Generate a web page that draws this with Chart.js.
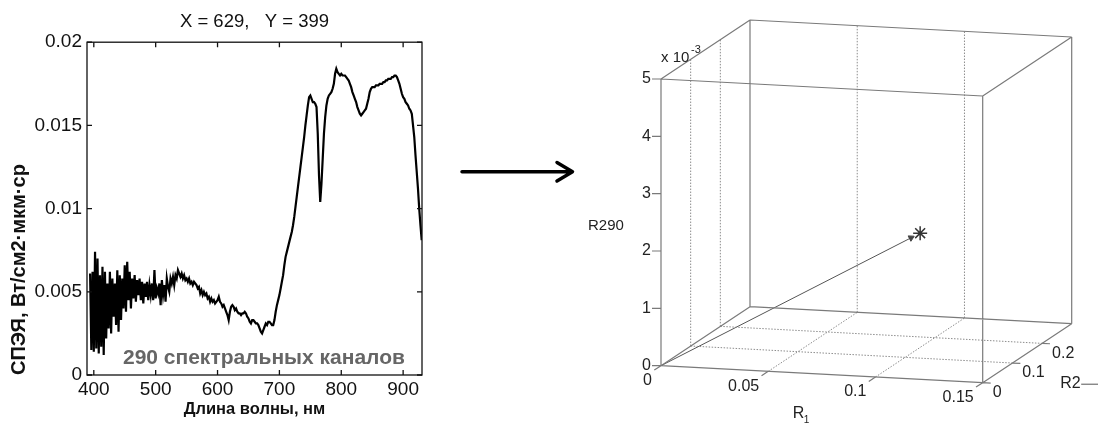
<!DOCTYPE html>
<html>
<head>
<meta charset="utf-8">
<script src="https://cdn.jsdelivr.net/npm/chart.js@4/dist/chart.umd.min.js"></script>
<style>
body { margin: 0; background: #fff; }
#wrap { position: relative; width: 1098px; height: 423px; }
canvas { position: absolute; top: 0; }
</style>
</head>
<body>
<div id="wrap">
<canvas id="spectrum" width="440" height="423" style="left:0"></canvas>
<canvas id="cube" width="658" height="423" style="left:440px"></canvas>
</div>
<script>
var font = "'Liberation Sans', Arial, sans-serif"

// left panel: spectrum of one pixel
var wavelength = [
  394, 396, 398, 400, 402, 404, 406, 408, 410, 412,
  414, 416, 418, 420, 422, 424, 426, 428, 430, 432,
  434, 436, 438, 440, 442, 444, 446, 448, 450, 452,
  454, 456, 458, 460, 462, 464, 466, 468, 470, 472,
  474, 476, 478, 480, 482, 484, 486, 488, 490, 492,
  494, 496, 498, 500, 502, 504, 506, 508, 510, 512,
  514, 516, 518, 520, 522, 524, 526, 528, 530, 532,
  534, 536, 538, 540, 542, 544, 546, 548, 550, 552,
  554, 556, 558, 560, 562, 564, 566, 568, 570, 572,
  574, 576, 578, 580, 582, 584, 586, 588, 590, 592,
  594, 596, 598, 600, 602, 604, 606, 608, 610, 612,
  614, 616, 618, 620, 622, 624, 626, 628, 630, 632,
  634, 636, 638, 640, 642, 644, 646, 648, 650, 652,
  654, 656, 658, 660, 662, 664, 666, 668, 670, 672,
  674, 676, 678, 680, 682, 684, 686, 688, 690, 692,
  694, 696, 698, 700, 702, 704, 706, 708, 710, 712,
  714, 716, 718, 720, 722, 724, 726, 728, 730, 732,
  734, 736, 738, 740, 742, 744, 746, 748, 750, 752,
  754, 756, 758, 760, 762, 764, 766, 768, 770, 772,
  774, 776, 778, 780, 782, 784, 786, 788, 790, 792,
  794, 796, 798, 800, 802, 804, 806, 808, 810, 812,
  814, 816, 818, 820, 822, 824, 826, 828, 830, 832,
  834, 836, 838, 840, 842, 844, 846, 848, 850, 852,
  854, 856, 858, 860, 862, 864, 866, 868, 870, 872,
  874, 876, 878, 880, 882, 884, 886, 888, 890, 892,
  894, 896, 898, 900, 902, 904, 906, 908, 910, 912,
  914, 916, 918, 920, 922, 924, 926, 928, 930
]
var radiance = [
  0.0061, 0.0015, 0.0062, 0.0014, 0.0074, 0.0016, 0.0070, 0.0013, 0.0060, 0.0017,
  0.0065, 0.0012, 0.0062, 0.0022, 0.0055, 0.0028, 0.0062, 0.0025, 0.0058, 0.0035,
  0.0055, 0.0030, 0.0063, 0.0026, 0.0060, 0.0033, 0.0058, 0.0040, 0.0066, 0.0038,
  0.0068, 0.0045, 0.0062, 0.0040, 0.0058, 0.0046, 0.0060, 0.0044, 0.0057, 0.0048,
  0.0058, 0.0045, 0.0056, 0.0043, 0.0055, 0.0047, 0.0056, 0.0045, 0.0054, 0.0048,
  0.0055, 0.0045, 0.0063, 0.0046, 0.0052, 0.0049, 0.0055, 0.0042, 0.0057, 0.0048,
  0.0054, 0.0044, 0.0058, 0.0053, 0.0050, 0.0058, 0.0055, 0.0059, 0.0054, 0.0060,
  0.0058, 0.0063, 0.0061, 0.0059, 0.0061, 0.0058, 0.0060, 0.0057, 0.0058, 0.0056,
  0.0058, 0.0055, 0.0056, 0.0054, 0.0056, 0.0055, 0.0054, 0.0052, 0.0053, 0.0049,
  0.0051, 0.0048, 0.0050, 0.0048, 0.0049, 0.0046, 0.0047, 0.0044, 0.0046, 0.0044,
  0.0045, 0.0043, 0.0044, 0.0045, 0.0047, 0.0044, 0.0043, 0.0041, 0.0042, 0.0040,
  0.0038, 0.0036, 0.0033, 0.0038, 0.0041, 0.0042, 0.0041, 0.0039, 0.0040, 0.0038,
  0.0037, 0.0037, 0.0036, 0.0037, 0.0037, 0.0038, 0.0037, 0.0035, 0.0034, 0.0032,
  0.0031, 0.0033, 0.0033, 0.0032, 0.0031, 0.0031, 0.0030, 0.0028, 0.0026, 0.0025,
  0.0027, 0.0029, 0.0031, 0.0030, 0.0032, 0.0032, 0.0031, 0.0030, 0.0030, 0.0033,
  0.0038, 0.0042, 0.0045, 0.0048, 0.0052, 0.0056, 0.0060, 0.0066, 0.0071, 0.0074,
  0.0077, 0.0080, 0.0083, 0.0086, 0.0090, 0.0095, 0.0101, 0.0107, 0.0113, 0.0119,
  0.0125, 0.0131, 0.0137, 0.0143, 0.0150, 0.0156, 0.0162, 0.0167, 0.0168, 0.0166,
  0.0164, 0.0164, 0.0163, 0.0161, 0.0145, 0.0120, 0.0104, 0.0115, 0.0130, 0.0145,
  0.0155, 0.0162, 0.0166, 0.0168, 0.0169, 0.0170, 0.0172, 0.0175, 0.0181, 0.0184,
  0.0182, 0.0181, 0.0180, 0.0181, 0.0180, 0.0180, 0.0180, 0.0179, 0.0178, 0.0177,
  0.0175, 0.0173, 0.0170, 0.0168, 0.0166, 0.0164, 0.0161, 0.0159, 0.0157, 0.0156,
  0.0157, 0.0158, 0.0159, 0.0160, 0.0163, 0.0166, 0.0170, 0.0172, 0.0173, 0.0173,
  0.0173, 0.0174, 0.0174, 0.0174, 0.0175, 0.0175, 0.0175, 0.0176, 0.0176, 0.0177,
  0.0177, 0.0178, 0.0178, 0.0178, 0.0179, 0.0179, 0.0180, 0.0180, 0.0179, 0.0177,
  0.0175, 0.0172, 0.0169, 0.0167, 0.0166, 0.0164, 0.0163, 0.0162, 0.0160, 0.0159,
  0.0157, 0.0150, 0.0143, 0.0132, 0.0122, 0.0112, 0.0100, 0.0090, 0.0081
]
var xTicks = [400, 500, 600, 700, 800, 900]
var yTicks = [0, 0.005, 0.01, 0.015, 0.02]
var noteText = '290 спектральных каналов'

// right panel: the same pixel as a point in feature space
var r1Lim = [0, 0.15]
var r2Lim = [0, 0.3]
var r290Lim = [0, 0.005]
var r1Ticks = [0, 0.05, 0.1, 0.15]
var r2Ticks = [0, 0.1, 0.2]
var r290Ticks = [0, 0.001, 0.002, 0.003, 0.004, 0.005]
var pixelR1 = [0.107]
var pixelR2 = [0.1]
var pixelR290 = [0.00218]

// ---------- left chart ----------
var spectrumFrame = {
  id: 'spectrumFrame',
  afterDraw: function (chart) {
    var ctx = chart.ctx
    var a = chart.chartArea
    var sx = chart.scales.x
    var sy = chart.scales.y
    ctx.save()
    ctx.strokeStyle = '#111'
    ctx.lineWidth = 1.3
    ctx.strokeRect(a.left, a.top, a.right - a.left, a.bottom - a.top)
    ctx.beginPath()
    sx.ticks.forEach(function (t) {
      var p = sx.getPixelForValue(t.value)
      ctx.moveTo(p, a.bottom); ctx.lineTo(p, a.bottom - 5)
      ctx.moveTo(p, a.top); ctx.lineTo(p, a.top + 5)
    })
    sy.ticks.forEach(function (t) {
      var p = sy.getPixelForValue(t.value)
      ctx.moveTo(a.left, p); ctx.lineTo(a.left + 5, p)
      ctx.moveTo(a.right, p); ctx.lineTo(a.right - 5, p)
    })
    ctx.stroke()
    ctx.font = 'bold 21px ' + font
    ctx.fillStyle = '#666'
    ctx.textAlign = 'center'
    ctx.textBaseline = 'middle'
    ctx.fillText(noteText, sx.getPixelForValue(675), sy.getPixelForValue(0.001))
    ctx.restore()
  }
}

new Chart(document.getElementById('spectrum'), {
  type: 'line',
  data: {
    datasets: [{
      data: wavelength.map(function (w, i) { return { x: w, y: radiance[i] } }),
      borderColor: '#000',
      borderWidth: 2.2,
      pointRadius: 0,
      tension: 0
    }]
  },
  options: {
    responsive: false,
    animation: false,
    events: [],
    layout: { autoPadding: false, padding: { left: 0, right: 18, top: 0, bottom: 0 } },
    plugins: {
      legend: { display: false },
      tooltip: { enabled: false },
      title: {
        display: true,
        fullSize: false,
        text: 'X = 629,   Y = 399',
        color: '#111',
        font: { family: font, size: 18.5, weight: 'normal' },
        padding: { top: 11, bottom: 9 }
      }
    },
    scales: {
      x: {
        type: 'linear',
        min: 389,
        max: 930.5,
        afterBuildTicks: function (s) { s.ticks = xTicks.map(function (v) { return { value: v } }) },
        afterFit: function (s) { s.height = 48 },
        grid: { display: false, drawTicks: false },
        border: { display: false },
        ticks: { color: '#111', font: { family: font, size: 19 }, padding: 3, maxRotation: 0, autoSkip: false },
        title: {
          display: true,
          text: 'Длина волны, нм',
          color: '#111',
          font: { family: font, size: 16.5, weight: 'bold' },
          padding: { top: 0, bottom: 4 }
        }
      },
      y: {
        min: 0,
        max: 0.02,
        afterBuildTicks: function (s) { s.ticks = yTicks.map(function (v) { return { value: v } }) },
        afterFit: function (s) { s.width = 87 },
        grid: { display: false, drawTicks: false },
        border: { display: false },
        ticks: {
          color: '#111',
          font: { family: font, size: 19 },
          padding: 5,
          callback: function (v) { return String(Number(v.toFixed(4))) }
        },
        title: {
          display: true,
          align: 'start',
          text: 'СПЭЯ, Вт/см2·мкм·ср',
          color: '#111',
          font: { family: font, size: 20, weight: 'bold' },
          padding: { top: 7, bottom: 0 }
        }
      }
    }
  },
  plugins: [spectrumFrame]
})

// ---------- right chart: 3-D box projected onto a flat scatter ----------
var cubeW = 658
var cubeH = 423
var origin = { x: 221, y: 365.7 }      // canvas position of (0, 0, 0)
var axR1 = [321.7, -17]                 // screen span of the whole R1 range
var axR2 = [89, 59]
var axZ = [0, 286.7]

function proj (r1, r2, z) {
  var a = (r1 - r1Lim[0]) / (r1Lim[1] - r1Lim[0])
  var b = (r2 - r2Lim[0]) / (r2Lim[1] - r2Lim[0])
  var c = (z - r290Lim[0]) / (r290Lim[1] - r290Lim[0])
  return { x: a * axR1[0] + b * axR2[0] + c * axZ[0], y: a * axR1[1] + b * axR2[1] + c * axZ[1] }
}
function shift (p, dx, dy) { return { x: p.x + dx, y: p.y + dy } }
function inner (ticks, lim) { return ticks.filter(function (v) { return v > lim[0] && v < lim[1] }) }
function segments (list) {
  var out = []
  list.forEach(function (s) { out.push(s[0], s[1], { x: null, y: null }) })
  return out
}

var edges = []
;[0, 1].forEach(function (i) {
  [0, 1].forEach(function (j) {
    [0, 1].forEach(function (k) {
      if (i === 0) edges.push([proj(r1Lim[0], r2Lim[j], r290Lim[k]), proj(r1Lim[1], r2Lim[j], r290Lim[k])])
      if (j === 0) edges.push([proj(r1Lim[i], r2Lim[0], r290Lim[k]), proj(r1Lim[i], r2Lim[1], r290Lim[k])])
      if (k === 0) edges.push([proj(r1Lim[i], r2Lim[j], r290Lim[0]), proj(r1Lim[i], r2Lim[j], r290Lim[1])])
    })
  })
})

var gridLines = []
inner(r1Ticks, r1Lim).forEach(function (v) {
  gridLines.push([proj(v, r2Lim[1], r290Lim[0]), proj(v, r2Lim[1], r290Lim[1])])
  gridLines.push([proj(v, r2Lim[0], r290Lim[0]), proj(v, r2Lim[1], r290Lim[0])])
})
inner(r2Ticks, r2Lim).forEach(function (v) {
  gridLines.push([proj(r1Lim[0], v, r290Lim[0]), proj(r1Lim[0], v, r290Lim[1])])
  gridLines.push([proj(r1Lim[0], v, r290Lim[0]), proj(r1Lim[1], v, r290Lim[0])])
})

var tickMarks = []
r290Ticks.forEach(function (v) { var p = proj(r1Lim[0], r2Lim[0], v); tickMarks.push([p, shift(p, -9, 0)]) })
r1Ticks.forEach(function (v) { var p = proj(v, r2Lim[0], r290Lim[0]); tickMarks.push([p, shift(p, -6.7, -4.4)]) })
r2Ticks.forEach(function (v) { var p = proj(r1Lim[1], v, r290Lim[0]); tickMarks.push([p, shift(p, 8, -0.4)]) })

var base = proj(r1Lim[0], r2Lim[0], r290Lim[0])
var star = proj(pixelR1[0], pixelR2[0], pixelR290[0])
var tip = { x: base.x + (star.x - base.x) * 0.965, y: base.y + (star.y - base.y) * 0.965 }
var headAngle = Math.atan2(star.x - base.x, star.y - base.y) * 180 / Math.PI

var cubeLabels = {
  id: 'cubeLabels',
  afterDraw: function (chart) {
    var ctx = chart.ctx
    var sx = chart.scales.x
    var sy = chart.scales.y
    function px (p) { return { x: sx.getPixelForValue(p.x), y: sy.getPixelForValue(p.y) } }
    function text (s, x, y, align, size) {
      ctx.font = size + 'px ' + font
      ctx.textAlign = align
      ctx.fillText(s, x, y)
    }
    ctx.save()
    ctx.fillStyle = '#222'
    ctx.textBaseline = 'middle'
    r290Ticks.forEach(function (v) {
      var p = px(proj(r1Lim[0], r2Lim[0], v))
      text(String(Math.round(v * 1000)), p.x - 10, p.y, 'right', 16)
    })
    r1Ticks.forEach(function (v) {
      var p = px(proj(v, r2Lim[0], r290Lim[0]))
      text(String(v), p.x - 9, p.y + 15, 'right', 16)
    })
    r2Ticks.forEach(function (v) {
      var p = px(proj(r1Lim[1], v, r290Lim[0]))
      text(String(v), p.x + 10, p.y + 10, 'left', 16)
    })
    var top = px(proj(r1Lim[0], r2Lim[0], r290Lim[1]))
    text('x 10', top.x, top.y - 21, 'left', 15)
    text('-3', top.x + 30, top.y - 29, 'left', 11)
    var zMid = px(proj(r1Lim[0], r2Lim[0], (r290Lim[0] + r290Lim[1]) / 2))
    text('R290', zMid.x - 73, zMid.y + 4, 'left', 15)
    var r1Mid = px(proj((r1Lim[0] + r1Lim[1]) / 2, r2Lim[0], r290Lim[0]))
    text('R', r1Mid.x - 29, r1Mid.y + 39, 'left', 16)
    text('1', r1Mid.x - 18, r1Mid.y + 46, 'left', 10)
    var r2Mid = px(proj(r1Lim[1], (r2Lim[0] + r2Lim[1]) / 2, r290Lim[0]))
    text('R2', r2Mid.x + 33, r2Mid.y + 30, 'left', 16)
    ctx.strokeStyle = '#555'
    ctx.lineWidth = 1
    ctx.beginPath()
    ctx.moveTo(r2Mid.x + 54, r2Mid.y + 31)
    ctx.lineTo(chart.width, r2Mid.y + 31)
    ctx.stroke()

    // the arrow between the two panels
    ctx.strokeStyle = '#000'
    ctx.lineWidth = 3.5
    ctx.lineCap = 'round'
    ctx.lineJoin = 'round'
    ctx.beginPath()
    ctx.moveTo(22, 171.7)
    ctx.lineTo(132, 171.7)
    ctx.moveTo(117, 162.5)
    ctx.lineTo(132.5, 171.7)
    ctx.lineTo(117, 181)
    ctx.stroke()
    ctx.restore()
  }
}

new Chart(document.getElementById('cube'), {
  type: 'scatter',
  data: {
    datasets: [
      { data: segments(edges), showLine: true, borderColor: '#7a7a7a', borderWidth: 1.2, pointRadius: 0 },
      { data: segments(gridLines), showLine: true, borderColor: '#8c8c8c', borderWidth: 1, borderDash: [1.5, 1.5], pointRadius: 0 },
      { data: segments(tickMarks), showLine: true, borderColor: '#7a7a7a', borderWidth: 1.2, pointRadius: 0 },
      {
        data: [base, tip],
        showLine: true,
        borderColor: '#555',
        borderWidth: 1,
        pointRadius: [0, 3.5],
        pointStyle: 'triangle',
        pointRotation: headAngle,
        pointBackgroundColor: '#444',
        pointBorderColor: '#444'
      },
      { data: [star], pointStyle: 'star', pointRadius: 7, pointBorderColor: '#333', pointBorderWidth: 1.5 }
    ]
  },
  options: {
    responsive: false,
    animation: false,
    events: [],
    layout: { autoPadding: false, padding: 0 },
    plugins: { legend: { display: false }, tooltip: { enabled: false } },
    scales: {
      x: { type: 'linear', display: false, min: -origin.x, max: cubeW - origin.x },
      y: { type: 'linear', display: false, min: -(cubeH - origin.y), max: origin.y }
    }
  },
  plugins: [cubeLabels]
})
</script>
</body>
</html>
